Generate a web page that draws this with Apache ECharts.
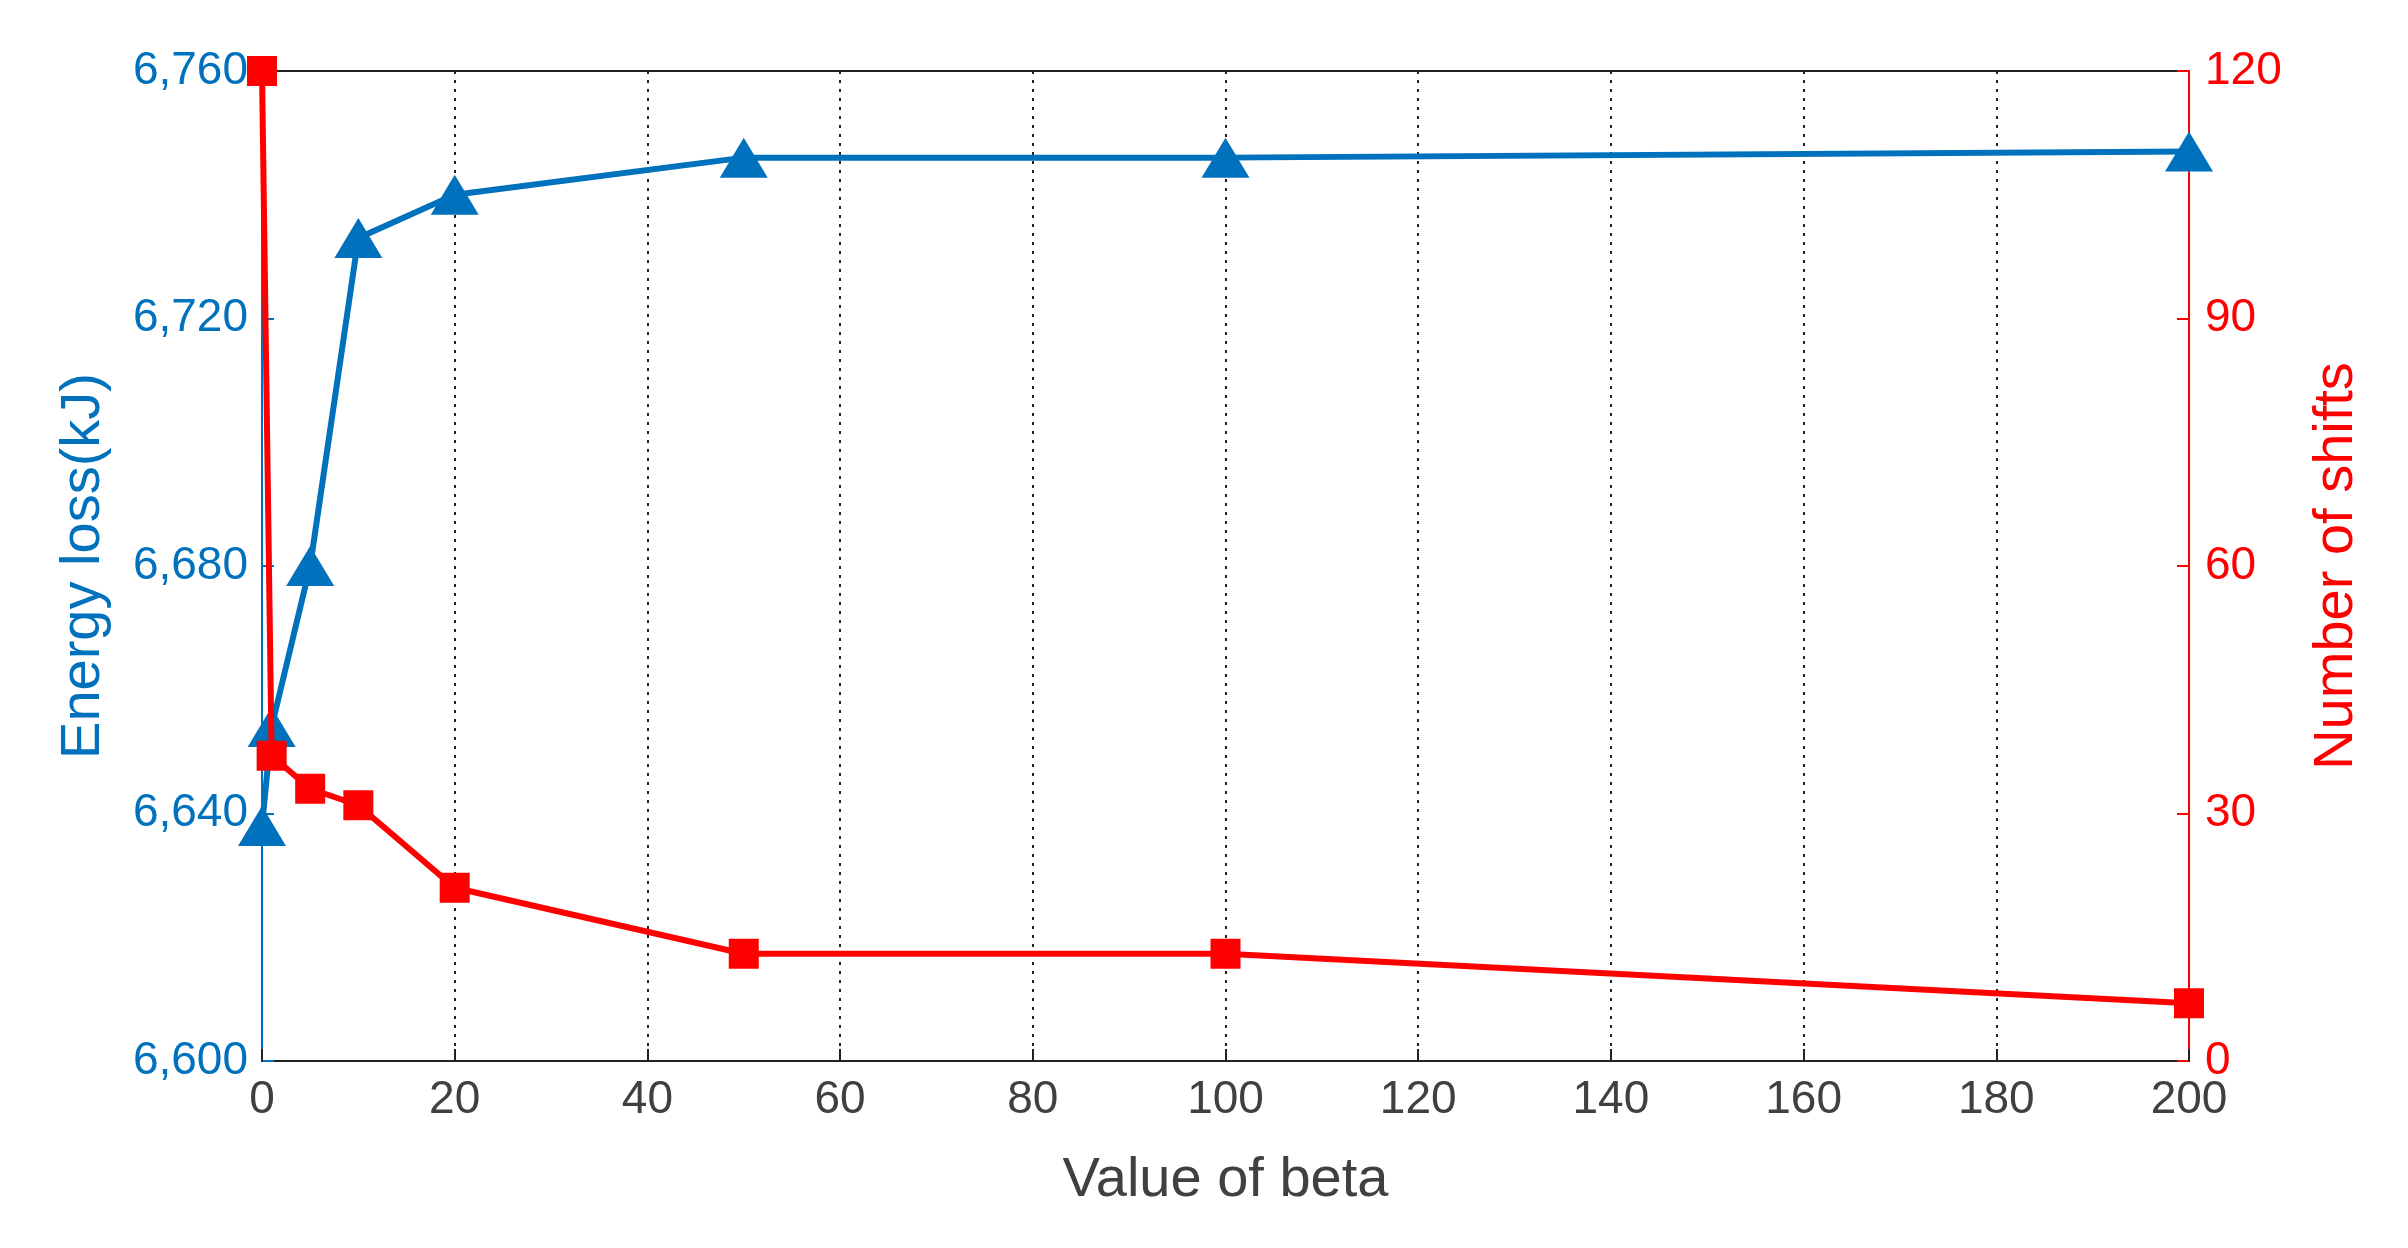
<!DOCTYPE html>
<html>
<head>
<meta charset="utf-8">
<script src="https://cdn.jsdelivr.net/npm/echarts@6/dist/echarts.min.js"></script>
<style>html,body{margin:0;padding:0;background:#fff}#chart{width:2408px;height:1248px}</style>
</head>
<body>
<div id="chart"></div>
<script>
var betaValues = [0, 1, 5, 10, 20, 50, 100, 200];
var energyLoss = [6638, 6654, 6680, 6733, 6740, 6746, 6746, 6747];
var shiftCount = [120, 37, 33, 31, 21, 13, 13, 7];

var chart = echarts.init(document.getElementById('chart'));
var font = 'Liberation Sans';

function pairs(ys) {
	return betaValues.map(function (x, i) { return [x, ys[i]]; });
}

chart.setOption({
	animation: false,
	grid: { left: 262, right: 219, top: 71, bottom: 187, show: true, borderColor: '#222', borderWidth: 2 },
	xAxis: {
		type: 'value', min: 0, max: 200, interval: 20,
		name: 'Value of beta', nameLocation: 'middle', nameGap: 92,
		nameTextStyle: { fontFamily: font, fontSize: 56, color: '#404040' },
		axisLine: { lineStyle: { color: '#222', width: 2 } },
		axisTick: { inside: true, length: 12, lineStyle: { color: '#222', width: 2 } },
		axisLabel: { fontFamily: font, fontSize: 46, color: '#404040', margin: 16 },
		splitLine: { show: true, lineStyle: { color: '#222', type: [3, 6], width: 2 } }
	},
	yAxis: [{
		type: 'value', min: 6600, max: 6760, interval: 40, position: 'left',
		name: 'Energy loss(kJ)', nameLocation: 'middle', nameGap: 150,
		nameTextStyle: { fontFamily: font, fontSize: 56, color: '#0072BD' },
		axisLine: { show: true, lineStyle: { color: '#0072BD', width: 2 } },
		axisTick: { show: true, inside: true, length: 12, lineStyle: { color: '#0072BD', width: 2 } },
		axisLabel: { fontFamily: font, fontSize: 46, color: '#0072BD', margin: 14 },
		splitLine: { show: false }
	}, {
		type: 'value', min: 0, max: 120, interval: 30, position: 'right',
		name: 'Number of shifts', nameLocation: 'middle', nameGap: 120, nameRotate: 90,
		nameTextStyle: { fontFamily: font, fontSize: 56, color: '#FF0000' },
		axisLine: { show: true, lineStyle: { color: '#FF0000', width: 2 } },
		axisTick: { show: true, inside: true, length: 12, lineStyle: { color: '#FF0000', width: 2 } },
		axisLabel: { fontFamily: font, fontSize: 46, color: '#FF0000', margin: 16 },
		splitLine: { show: false }
	}],
	series: [{
		name: 'Energy loss', type: 'line', yAxisIndex: 0,
		data: pairs(energyLoss),
		symbol: 'triangle', symbolSize: [48, 40],
		lineStyle: { color: '#0072BD', width: 6 },
		itemStyle: { color: '#0072BD' },
		z: 3
	}, {
		name: 'Number of shifts', type: 'line', yAxisIndex: 1,
		data: pairs(shiftCount),
		symbol: 'rect', symbolSize: 30,
		lineStyle: { color: '#FF0000', width: 6 },
		itemStyle: { color: '#FF0000' },
		z: 4
	}]
});
</script>
</body>
</html>
